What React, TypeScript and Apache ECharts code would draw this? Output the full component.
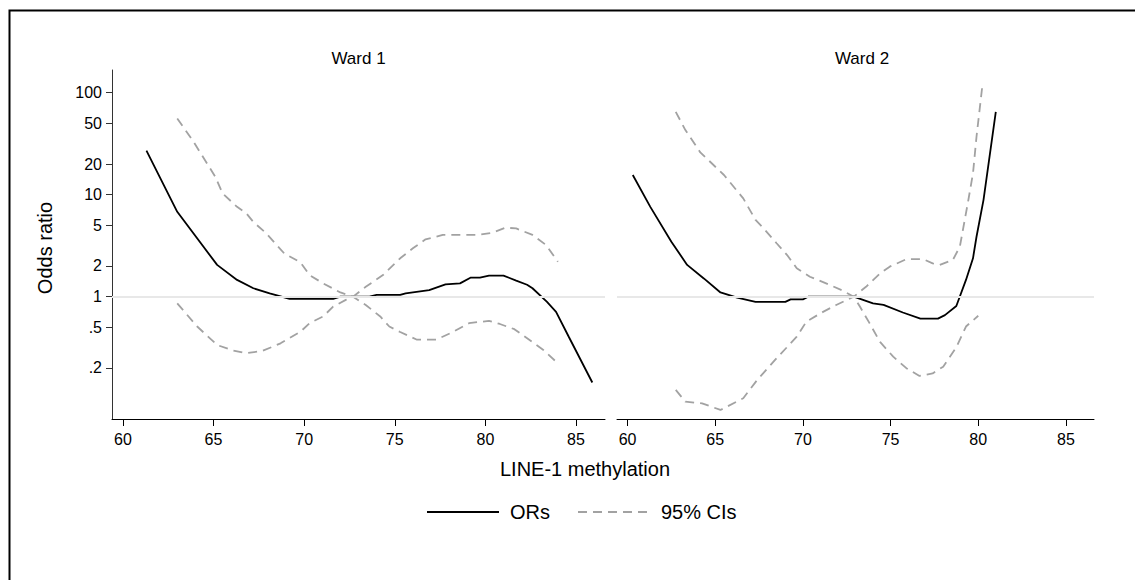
import { useEffect, useRef } from "react";
import * as echarts from "echarts";

const FONT = "'Liberation Sans', Arial, sans-serif";

const xTicks = [60, 65, 70, 75, 80, 85];
const yTickValues = [100, 50, 20, 10, 5, 2, 1, 0.5, 0.2];
const yTickLabels = ["100", "50", "20", "10", "5", "2", "1", ".5", ".2"];
const panelTitles = ["Ward 1", "Ward 2"];

// Ward 1
const w1OrX = [61.3, 63.0, 65.2, 66.3, 67.2, 68.1, 69.2, 71.6, 72.0, 73.6, 74.0, 75.3, 75.6, 76.9, 77.8, 78.6, 79.2, 79.7, 80.2, 81.0, 81.7, 82.3, 82.6, 83.4, 83.9, 84.6, 85.9];
const w1OrY = [27, 6.8, 2.05, 1.46, 1.21, 1.08, 0.95, 0.95, 1.0, 1.0, 1.04, 1.04, 1.08, 1.16, 1.32, 1.35, 1.54, 1.54, 1.61, 1.61, 1.44, 1.31, 1.21, 0.89, 0.71, 0.405, 0.144];
const w1CiAX = [63.0, 63.9, 65.1, 65.5, 66.3, 66.8, 67.2, 67.9, 68.9, 69.8, 70.3, 71.05, 72.0, 72.7, 73.4, 74.2, 74.7, 75.3, 76.2, 77.3, 78.2, 79.1, 80.2, 80.8, 81.6, 82.4, 83.2, 84.0];
const w1CiAY = [56, 33, 15, 10.3, 7.6, 6.6, 5.4, 4.2, 2.66, 2.17, 1.63, 1.35, 1.1, 1.0, 0.83, 0.64, 0.51, 0.45, 0.38, 0.38, 0.45, 0.55, 0.58, 0.54, 0.48, 0.38, 0.3, 0.222];
const w1CiBX = [63.0, 64.1, 65.2, 66.1, 66.8, 67.7, 68.7, 69.8, 70.3, 71.05, 71.6, 72.3, 72.7, 73.4, 74.35, 75.3, 76.0, 76.7, 77.65, 79.5, 80.4, 81.1, 81.7, 82.6, 83.35, 84.0];
const w1CiBY = [0.86, 0.51, 0.336, 0.296, 0.279, 0.294, 0.349, 0.454, 0.55, 0.64, 0.8, 0.93, 1.0, 1.25, 1.63, 2.38, 2.98, 3.65, 4.03, 4.03, 4.24, 4.75, 4.67, 4.03, 3.21, 2.2];

// Ward 2
const w2OrX = [60.3, 61.3, 62.5, 63.4, 64.35, 65.3, 66.25, 67.3, 69.0, 69.3, 70.0, 70.3, 72.9, 74.0, 74.6, 75.7, 76.7, 77.7, 78.1, 78.75, 79.3, 79.7, 79.9, 80.3, 81.0];
const w2OrY = [15.6, 7.6, 3.46, 2.05, 1.51, 1.1, 0.98, 0.89, 0.89, 0.94, 0.94, 1.0, 1.0, 0.86, 0.83, 0.7, 0.61, 0.61, 0.66, 0.81, 1.46, 2.38, 3.87, 8.9, 65];
const w2CiAX = [62.75, 63.3, 64.15, 65.5, 66.6, 67.3, 67.75, 68.5, 69.1, 69.65, 70.4, 71.55, 72.3, 72.9, 73.25, 73.8, 74.4, 75.15, 75.9, 76.65, 77.4, 78.0, 78.75, 79.3, 80.0];
const w2CiAY = [65, 43, 26, 15.6, 9.2, 5.65, 4.69, 3.34, 2.56, 1.9, 1.57, 1.3, 1.14, 1.0, 0.8, 0.55, 0.36, 0.258, 0.199, 0.167, 0.177, 0.206, 0.32, 0.51, 0.65];
const w2CiBX = [62.75, 63.3, 64.25, 65.3, 66.6, 67.4, 68.5, 69.65, 70.2, 71.15, 71.9, 72.9, 73.6, 74.4, 74.95, 75.9, 76.85, 77.4, 77.8, 78.55, 78.95, 79.4, 79.7, 79.9, 80.25];
const w2CiBY = [0.122, 0.0935, 0.09, 0.0775, 0.101, 0.153, 0.249, 0.405, 0.57, 0.71, 0.83, 1.0, 1.25, 1.69, 1.97, 2.33, 2.34, 2.12, 2.05, 2.29, 3.09, 8.2, 16.2, 37, 124];

const X_MIN = 59.4;
const X_MAX = 86.6;
const Y_MIN = Math.log10(0.0632);
const Y_MAX = Math.log10(167);

const pairs = (xs: number[], ys: number[]) => xs.map((x, i) => [x, Math.log10(ys[i])]);

export default function App() {
  const ref = useRef<HTMLDivElement>(null);

  useEffect(() => {
    if (!ref.current) return;
    const chart = echarts.init(ref.current, null, { renderer: "svg" });
    const yLogTicks = yTickValues.map((v) => Math.log10(v));

    const orLine = { color: "#000000", width: 1.8, type: "solid" as const };
    const ciLine = { color: "#a2a2a2", width: 1.8, type: [9, 6] as any };

    const mkX = (gi: number) => ({
      type: "value",
      gridIndex: gi,
      min: X_MIN,
      max: X_MAX,
      axisLine: { show: true, onZero: false, lineStyle: { color: "#000", width: 1 } },
      axisTick: { show: true, length: 7, customValues: xTicks, lineStyle: { color: "#000" } },
      axisLabel: { customValues: xTicks, fontSize: 16, color: "#000", fontFamily: FONT, margin: 12 },
      splitLine: { show: false },
    });

    const mkY = (gi: number) => ({
      type: "value",
      gridIndex: gi,
      min: Y_MIN,
      max: Y_MAX,
      axisLine: { show: gi === 0, onZero: false, lineStyle: { color: "#333", width: 1 } },
      axisTick: { show: gi === 0, length: 6, customValues: yLogTicks, lineStyle: { color: "#333" } },
      axisLabel: {
        show: gi === 0,
        customValues: yLogTicks,
        fontSize: 16,
        color: "#000",
        fontFamily: FONT,
        margin: 10,
        formatter: (v: number) => {
          const i = yTickValues.findIndex((t) => Math.abs(Math.log10(t) - v) < 1e-6);
          return i >= 0 ? yTickLabels[i] : "";
        },
      },
      splitLine: { show: false },
    });

    const refLine = (gi: number) => ({
      type: "line",
      xAxisIndex: gi,
      yAxisIndex: gi,
      data: [],
      z: 1,
      silent: true,
      markLine: {
        silent: true,
        symbol: ["none", "none"],
        label: { show: false },
        lineStyle: { color: "#e8e8e8", width: 2, type: "solid" },
        data: [{ yAxis: 0 }],
      },
    });

    const line = (gi: number, name: string, data: number[][], style: any) => ({
      type: "line",
      name,
      xAxisIndex: gi,
      yAxisIndex: gi,
      data,
      symbol: "none",
      showSymbol: false,
      lineStyle: style,
      itemStyle: { color: style.color },
      z: 3,
    });

    chart.setOption({
      animation: false,
      backgroundColor: "#ffffff",
      grid: [
        { left: 112, top: 70, width: 493, height: 349 },
        { left: 617, top: 70, width: 477, height: 349 },
      ],
      xAxis: [mkX(0), mkX(1)],
      yAxis: [mkY(0), mkY(1)],
      legend: {
        data: ["ORs", "95% CIs"],
        left: 421,
        top: 497,
        itemWidth: 72,
        itemHeight: 20,
        itemGap: 27,
        itemStyle: { opacity: 0 },
        textStyle: { fontSize: 20, color: "#000", fontFamily: FONT, padding: [0, 0, 0, 6] },
      },
      series: [
        refLine(0),
        refLine(1),
        line(0, "ORs", pairs(w1OrX, w1OrY), orLine),
        line(0, "95% CIs", pairs(w1CiAX, w1CiAY), ciLine),
        line(0, "95% CIs", pairs(w1CiBX, w1CiBY), ciLine),
        line(1, "ORs", pairs(w2OrX, w2OrY), orLine),
        line(1, "95% CIs", pairs(w2CiAX, w2CiAY), ciLine),
        line(1, "95% CIs", pairs(w2CiBX, w2CiBY), ciLine),
      ],
      graphic: [
        {
          type: "rect",
          silent: true,
          shape: { x: 9.5, y: 10.5, width: 1300, height: 800 },
          style: { fill: "none", stroke: "#000", lineWidth: 2 },
        },
        {
          type: "text",
          x: 358.5,
          y: 58,
          style: { text: panelTitles[0], fontSize: 17, fill: "#000", fontFamily: FONT, textAlign: "center", textVerticalAlign: "middle" },
        },
        {
          type: "text",
          x: 862,
          y: 58,
          style: { text: panelTitles[1], fontSize: 17, fill: "#000", fontFamily: FONT, textAlign: "center", textVerticalAlign: "middle" },
        },
        {
          type: "text",
          x: 585,
          y: 469,
          style: { text: "LINE-1 methylation", fontSize: 20, fill: "#000", fontFamily: FONT, textAlign: "center", textVerticalAlign: "middle" },
        },
        {
          type: "text",
          x: 45,
          y: 248,
          rotation: Math.PI / 2,
          style: { text: "Odds ratio", fontSize: 20, fill: "#000", fontFamily: FONT, textAlign: "center", textVerticalAlign: "middle" },
        },
      ],
    });

    return () => chart.dispose();
  }, []);

  return <div ref={ref} style={{ position: "fixed", left: 0, top: 0, width: 1135, height: 580 }} />;
}
